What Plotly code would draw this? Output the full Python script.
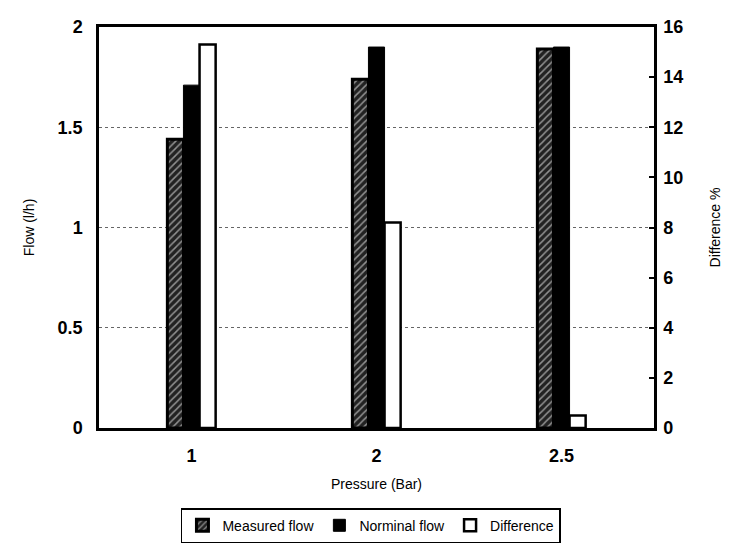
import plotly.graph_objects as go

pressure = ["1", "2", "2.5"]
measured_flow = [1.44, 1.74, 1.89]
nominal_flow = [1.71, 1.90, 1.90]
difference_pct = [15.3, 8.2, 0.5]

W = 0.087
fig = go.Figure()
fig.add_trace(go.Bar(
    x=pressure, y=measured_flow, name="Measured flow",
    width=W, offset=-1.5 * W,
    marker=dict(color="black", line=dict(color="black", width=3),
                pattern=dict(shape="/", fgcolor="white", bgcolor="#222", size=5, solidity=0.3)),
    yaxis="y",
))
fig.add_trace(go.Bar(
    x=pressure, y=nominal_flow, name="Norminal flow",
    width=W, offset=-0.5 * W,
    marker=dict(color="black", line=dict(color="black", width=1)),
    yaxis="y",
))
fig.add_trace(go.Bar(
    x=pressure, y=difference_pct, name="Difference",
    width=W, offset=0.5 * W,
    marker=dict(color="white", line=dict(color="black", width=2.5)),
    yaxis="y2",
))

titlefont = dict(family="Liberation Sans", size=14, color="black")
boldtick = dict(family="Liberation Sans", size=18, color="black", weight="bold")

fig.update_layout(
    width=722, height=542,
    margin=dict(l=91, r=76, t=19, b=122, autoexpand=False),
    paper_bgcolor="white", plot_bgcolor="white",
    barmode="overlay",
    showlegend=True,
    legend=dict(orientation="h", x=0.49, xanchor="center", y=-0.2, yanchor="top",
                bordercolor="black", borderwidth=1.5,
                font=dict(family="Liberation Sans", size=14, color="black"),
                itemwidth=30, tracegroupgap=0),
    xaxis=dict(
        type="category", automargin=False,
        title=dict(text="Pressure (Bar)", font=titlefont, standoff=14),
        tickfont=boldtick, ticklabelstandoff=10,
        showline=True, linecolor="black", linewidth=2.5, mirror=True,
        showgrid=False, ticks="",
    ),
    yaxis=dict(
        range=[0, 2], dtick=0.5, automargin=False,
        title=dict(text="Flow (l/h)", font=titlefont, standoff=20),
        tickfont=boldtick, ticklabelstandoff=10,
        showline=True, linecolor="black", linewidth=2.5, mirror=True,
        showgrid=True, gridcolor="#666", griddash="dot", gridwidth=1,
        zeroline=False, ticks="",
    ),
    yaxis2=dict(
        range=[0, 16], dtick=2, overlaying="y", side="right", automargin=False,
        title=dict(text="Difference %", font=titlefont, standoff=28),
        tickfont=boldtick, ticklabelstandoff=3,
        showline=True, linecolor="black", linewidth=2.5,
        showgrid=False, zeroline=False,
        ticks="inside", ticklen=5, tickcolor="black", tickwidth=1.5,
    ),
)

fig.write_html("out.html")
